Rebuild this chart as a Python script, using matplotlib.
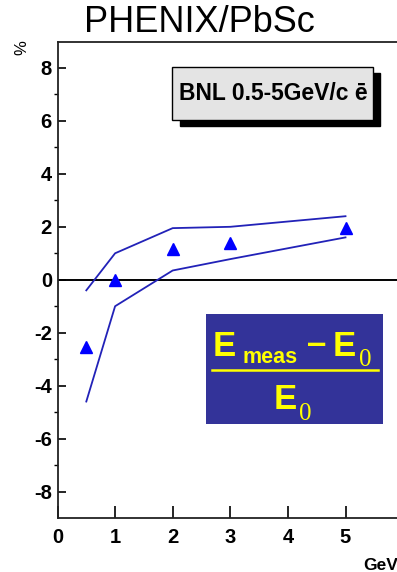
import matplotlib.pyplot as plt
from matplotlib.patches import Rectangle
from matplotlib.lines import Line2D

# energy scale residuals, PbSc calorimeter, BNL test beam
energy = [0.5, 1, 2, 3, 5]
residual = [-2.55, 0.0, 1.15, 1.4, 1.95]

band_x = [0.5, 1, 2, 3, 5]
band_upper = [-0.4, 1.0, 1.95, 2.0, 2.4]
band_lower = [-4.6, -1.0, 0.35, 0.78, 1.6]

xticks = [0, 1, 2, 3, 4, 5, 6]
yticks = [-8, -6, -4, -2, 0, 2, 4, 6, 8]

W, H = 397, 572
plt.rcParams['font.family'] = ['Liberation Sans', 'DejaVu Sans']
plt.rcParams['axes.unicode_minus'] = False
fig = plt.figure(figsize=(W / 100, H / 100), dpi=100)


def fx(px):
    return px / W


def fy(py):
    return 1 - py / H


# frame is wider than the canvas, right part is cut off
ax = fig.add_axes([fx(57.5), fy(518), 7 * 57.6 / W, (518 - 41.5) / H])
ax.set_xlim(0, 7)
ax.set_ylim(-9, 9)

ax.axhline(0, color='black', lw=1.4, zorder=1)
ax.plot(band_x, band_upper, color='#2222b8', lw=1.3)
ax.plot(band_x, band_lower, color='#2222b8', lw=1.3)
ax.plot(energy, residual, linestyle='none', marker='^', ms=8.5,
        color='#0000ff', mec='#0000ff')

ax.set_xticks(xticks)
ax.set_yticks(yticks)
ax.set_yticks([-7, -5, -3, -1, 1, 3, 5, 7], minor=True)
ax.tick_params(axis='both', direction='in', width=1.2, colors='black',
               labelsize=14.5)
ax.tick_params(axis='x', length=9, pad=7)
ax.tick_params(axis='y', which='major', length=6, pad=4)
ax.tick_params(axis='y', which='minor', length=3, width=1.0)
for lab in ax.get_xticklabels() + ax.get_yticklabels():
    lab.set_fontweight('bold')
for side in ['left', 'bottom', 'top']:
    ax.spines[side].set_linewidth(1.3)
    ax.spines[side].set_color('#222222')
ax.spines['right'].set_visible(False)

fig.text(fx(199), fy(22), 'PHENIX/PbSc', fontsize=26, ha='center', va='center')
fig.text(fx(22), fy(48), '%', fontsize=12, rotation=90, ha='center', va='center')
fig.text(fx(363), fy(566), 'GeV', fontsize=12.5, fontweight='bold',
         ha='left', va='center')

# beam label with drop shadow
fig.add_artist(Rectangle((fx(180), fy(126)), fx(200) - fx(0), fy(0) - fy(53),
                         transform=fig.transFigure, facecolor='black',
                         edgecolor='black', zorder=5))
fig.add_artist(Rectangle((fx(172), fy(120)), fx(201) - fx(0), fy(0) - fy(53),
                         transform=fig.transFigure, facecolor='#e4e4e4',
                         edgecolor='black', lw=1.0, zorder=6))
fig.text(fx(273), fy(94), 'BNL 0.5-5GeV/c \u0113', fontsize=16.5,
         fontweight='bold', ha='center', va='center', zorder=7)

# relative residual definition
fig.add_artist(Rectangle((fx(206), fy(424)), fx(177) - fx(0), fy(0) - fy(110),
                         transform=fig.transFigure, facecolor='#333399',
                         edgecolor='none', zorder=5))
yel = '#ffff00'
fig.text(fx(213), fy(356), 'E', fontsize=25, fontweight='bold', color=yel,
         ha='left', va='baseline', zorder=7)
fig.text(fx(242), fy(363), 'meas', fontsize=15.5, fontweight='bold', color=yel,
         ha='left', va='baseline', zorder=7)
fig.text(fx(317), fy(344), '\u2013', fontsize=25, fontweight='bold', color=yel,
         ha='center', va='center', zorder=7)
fig.text(fx(333), fy(356), 'E', fontsize=25, fontweight='bold', color=yel,
         ha='left', va='baseline', zorder=7)
fig.text(fx(359), fy(366), '0', fontsize=18, color=yel,
         family='Liberation Serif', ha='left', va='baseline', zorder=7)
fig.add_artist(Line2D([fx(212), fx(378)], [fy(370), fy(370)],
                      transform=fig.transFigure, color=yel, lw=1.8, zorder=7))
fig.text(fx(274), fy(409), 'E', fontsize=25, fontweight='bold', color=yel,
         ha='left', va='baseline', zorder=7)
fig.text(fx(299), fy(420), '0', fontsize=18, color=yel,
         family='Liberation Serif', ha='left', va='baseline', zorder=7)

fig.savefig('out.png', dpi=100)
